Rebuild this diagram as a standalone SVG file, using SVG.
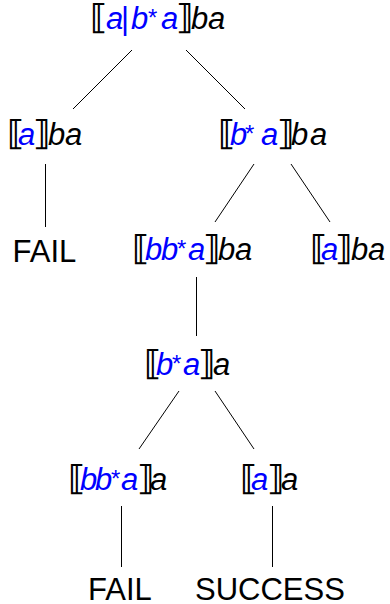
<svg xmlns="http://www.w3.org/2000/svg" width="390" height="604" viewBox="0 0 390 604">
<style>
.t{font-family:"Liberation Sans",Arial,sans-serif;font-size:31px;fill:#000}
.i{font-style:italic}
.bl{fill:#0000ff}
.br{font-family:"DejaVu Sans",sans-serif;font-style:normal;font-weight:bold;font-size:34px;fill:#000}
.s{font-size:24px;font-style:normal}
.c line{stroke:#000;stroke-width:1}
</style>
<g class="c" id="connectors">
<line x1="132" y1="50" x2="73" y2="109"/>
<line x1="186" y1="50" x2="245" y2="109"/>
<line x1="45.5" y1="164" x2="45.5" y2="227"/>
<line x1="254" y1="164" x2="215" y2="222"/>
<line x1="291" y1="164" x2="330" y2="222"/>
<line x1="196.5" y1="277" x2="196.5" y2="336"/>
<line x1="179" y1="391" x2="139" y2="449"/>
<line x1="215" y1="391" x2="254" y2="449"/>
<line x1="121.5" y1="506" x2="121.5" y2="567"/>
<line x1="272.5" y1="506" x2="272.5" y2="567"/>
</g>
<g id="n1"><text class="t" y="29"><tspan class="br" x="90">⟦</tspan><tspan class="i bl" x="106">a</tspan><tspan class="bl" x="121">|</tspan><tspan class="i bl" x="131">b</tspan><tspan class="s bl" x="148" dy="-3">*</tspan><tspan class="i bl" x="161" dy="3">a</tspan><tspan class="br" x="176">⟧</tspan><tspan class="i" x="191">b</tspan><tspan class="i" x="208">a</tspan></text></g>
<g id="n2"><text class="t" y="145"><tspan class="br" x="7">⟦</tspan><tspan class="i bl" x="18">a</tspan><tspan class="br" x="33">⟧</tspan><tspan class="i" x="48">b</tspan><tspan class="i" x="65">a</tspan></text></g>
<g id="n3"><text class="t" y="145"><tspan class="br" x="218">⟦</tspan><tspan class="i bl" x="230">b</tspan><tspan class="s bl" x="245" dy="-3">*</tspan><tspan class="i bl" x="261" dy="3">a</tspan><tspan class="br" x="277">⟧</tspan><tspan class="i" x="291">b</tspan><tspan class="i" x="310">a</tspan></text></g>
<g id="n4"><text class="t" x="12.5" y="261.5">FAIL</text></g>
<g id="n5"><text class="t" y="260"><tspan class="br" x="132">⟦</tspan><tspan class="i bl" x="145">b</tspan><tspan class="i bl" x="161">b</tspan><tspan class="s bl" x="177" dy="-3">*</tspan><tspan class="i bl" x="188" dy="3">a</tspan><tspan class="br" x="203">⟧</tspan><tspan class="i" x="218">b</tspan><tspan class="i" x="235">a</tspan></text></g>
<g id="n6"><text class="t" y="260"><tspan class="br" x="310">⟦</tspan><tspan class="i bl" x="321">a</tspan><tspan class="br" x="335">⟧</tspan><tspan class="i" x="351">b</tspan><tspan class="i" x="368">a</tspan></text></g>
<g id="n7"><text class="t" y="375"><tspan class="br" x="144">⟦</tspan><tspan class="i bl" x="156">b</tspan><tspan class="s bl" x="172" dy="-3">*</tspan><tspan class="i bl" x="183" dy="3">a</tspan><tspan class="br" x="198">⟧</tspan><tspan class="i" x="213">a</tspan></text></g>
<g id="n8"><text class="t" y="490"><tspan class="br" x="68">⟦</tspan><tspan class="i bl" x="80">b</tspan><tspan class="i bl" x="95">b</tspan><tspan class="s bl" x="111" dy="-3">*</tspan><tspan class="i bl" x="121" dy="3">a</tspan><tspan class="br" x="137">⟧</tspan><tspan class="i" x="150">a</tspan></text></g>
<g id="n9"><text class="t" y="490"><tspan class="br" x="240">⟦</tspan><tspan class="i bl" x="251">a</tspan><tspan class="br" x="267">⟧</tspan><tspan class="i" x="281">a</tspan></text></g>
<g id="n10"><text class="t" x="88" y="600">FAIL</text></g>
<g id="n11"><text class="t" x="195" y="600">SUCCESS</text></g>
</svg>
